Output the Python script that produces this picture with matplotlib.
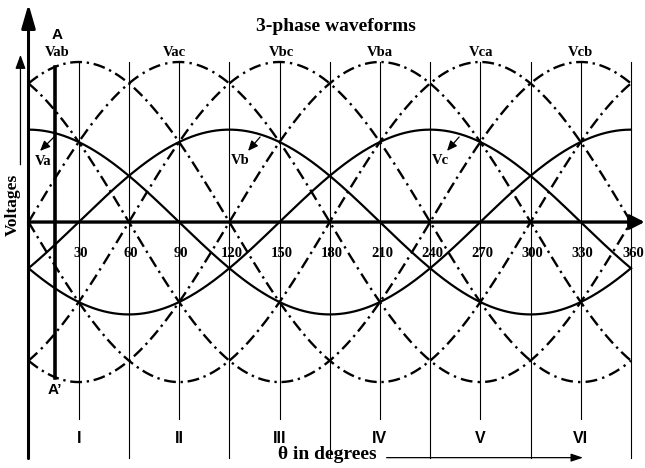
import numpy as np
import matplotlib
matplotlib.use("Agg")
import matplotlib.pyplot as plt

# Phase voltages (solid): peak angle in degrees, unit amplitude
phase_names = ["Va", "Vb", "Vc"]
phase_peak_deg = [0, 120, 240]
phase_amplitude = 1.0

# Line-to-line voltages (dash-dot): peak angle in degrees, amplitude sqrt(3)
line_names = ["Vab", "Vac", "Vbc", "Vba", "Vca", "Vcb"]
line_peak_deg = [-30, 30, 90, 150, 210, 270]
line_amplitude = np.sqrt(3)

# Where the line-voltage names sit along the angle axis
line_label_deg = [17, 87, 151, 210, 270.5, 330]

# Phase-voltage callouts: (label pos, arrow tail, arrow tip) in (deg, volts)
phase_label_pos = [(8.7, 0.66), (126.4, 0.67), (245.9, 0.67)]
phase_arrow_tail = [(15.8, 0.93), (138.4, 0.92), (257.3, 0.92)]
phase_arrow_tip = [(6.9, 0.77), (131.2, 0.77), (250.1, 0.77)]

# Angle grid and labels
tick_deg = [30, 60, 90, 120, 150, 180, 210, 240, 270, 300, 330, 360]
tick_labels = ["30", "60", "90", "120", "150", "180",
               "210", "240", "270", "300", "330", "360"]
sector_labels = ["I", "II", "III", "IV", "V", "VI"]
sector_center_deg = [30, 90, 150, 210, 270, 330]

# Observation line A-A'
a_line_deg = 16

serif = "Liberation Serif"
sans = "Liberation Sans"

fig = plt.figure(figsize=(6.45, 4.68), dpi=100)
ax = fig.add_axes([0, 0, 1, 1])
ax.set_xlim(-17.03, 368.4)
ax.set_ylim(-2.662, 2.403)
ax.axis("off")

theta = np.linspace(0, 360, 721)

# vertical sector / grid lines
for t in tick_deg:
    bottom = -2.55 if t % 60 == 0 else -2.13
    ax.plot([t, t], [line_amplitude, bottom], color="black", lw=0.8, zorder=1)

# line-to-line voltages
line_styles = [(0, (5, 2, 1, 2)), (0, (5, 2, 1, 2)), (0, (5, 2.2, 1, 2.2)),
               (0, (5, 2.2, 1, 2.2)), (0, (5, 2, 1, 2)), (0, (5, 2, 1, 2))]
for peak, ls in zip(line_peak_deg, line_styles):
    v = line_amplitude * np.cos(np.radians(theta - peak))
    ax.plot(theta, v, color="black", lw=1.7, linestyle=ls, zorder=2)

# phase voltages
for peak in phase_peak_deg:
    v = phase_amplitude * np.cos(np.radians(theta - peak))
    ax.plot(theta, v, color="black", lw=1.6, zorder=3)

# horizontal (angle) axis with arrow
ax.annotate("", xy=(368.2, 0), xytext=(0, 0),
            arrowprops=dict(arrowstyle="-|>,head_length=0.55,head_width=0.28",
                            mutation_scale=16, lw=2.4, color="black",
                            shrinkA=0, shrinkB=0), zorder=4)

# vertical (voltage) axis with arrow
ax.annotate("", xy=(0, 2.36), xytext=(0, -2.56),
            arrowprops=dict(arrowstyle="-|>,head_length=0.9,head_width=0.26",
                            mutation_scale=16, lw=2.2, color="black",
                            shrinkA=0, shrinkB=0), zorder=4)

# thin "Voltages" arrow
ax.annotate("", xy=(-4.8, 1.81), xytext=(-4.8, 0.62),
            arrowprops=dict(arrowstyle="-|>,head_length=0.6,head_width=0.22",
                            mutation_scale=14, lw=0.9, color="black",
                            shrinkA=0, shrinkB=0))
ax.text(-9.3, 0.19, "Voltages", rotation=90, ha="center", va="center",
        fontsize=12.5, fontweight="bold", family=serif)

# A-A' line
ax.plot([a_line_deg, a_line_deg], [-1.69, 1.68], color="black", lw=2.6, zorder=5)
ax.text(a_line_deg + 1, 2.02, "A", ha="center", va="center",
        fontsize=11, fontweight="bold", family=sans)
ax.text(a_line_deg, -1.82, "A\u2019", ha="center", va="center",
        fontsize=11, fontweight="bold", family=sans)

# line voltage names
for name, pos in zip(line_names, line_label_deg):
    ax.text(pos, 1.84, name, ha="center", va="center",
            fontsize=10.5, fontweight="bold", family=serif)

# phase voltage callouts
for name, lp, tail, tip in zip(phase_names, phase_label_pos,
                               phase_arrow_tail, phase_arrow_tip):
    ax.annotate("", xy=tip, xytext=tail,
                arrowprops=dict(arrowstyle="-|>,head_length=0.5,head_width=0.22",
                                mutation_scale=12, lw=0.9, color="black",
                                shrinkA=0, shrinkB=0), zorder=6)
    ax.text(lp[0], lp[1], name, ha="center", va="center",
            fontsize=10.5, fontweight="bold", family=serif)

# angle tick numbers
for t, lab in zip(tick_deg, tick_labels):
    ax.text(t + 1.2, -0.34, lab, ha="center", va="center",
            fontsize=10.5, fontweight="bold", family=serif)

# sector numerals
for c, lab in zip(sector_center_deg, sector_labels):
    ax.text(c, -2.34, lab, ha="center", va="center",
            fontsize=11.5, fontweight="bold", family=sans)

# title and x-axis caption
ax.text(184, 2.12, "3-phase waveforms", ha="center", va="center",
        fontsize=14, fontweight="bold", family=serif)
ax.text(178.4, -2.52, "\u03b8 in degrees", ha="center", va="center",
        fontsize=14, fontweight="bold", family=serif)
ax.annotate("", xy=(331.4, -2.55), xytext=(214, -2.55),
            arrowprops=dict(arrowstyle="-|>,head_length=0.6,head_width=0.2",
                            mutation_scale=12, lw=0.9, color="black",
                            shrinkA=0, shrinkB=0))

fig.savefig("out.png", dpi=100, facecolor="white")
